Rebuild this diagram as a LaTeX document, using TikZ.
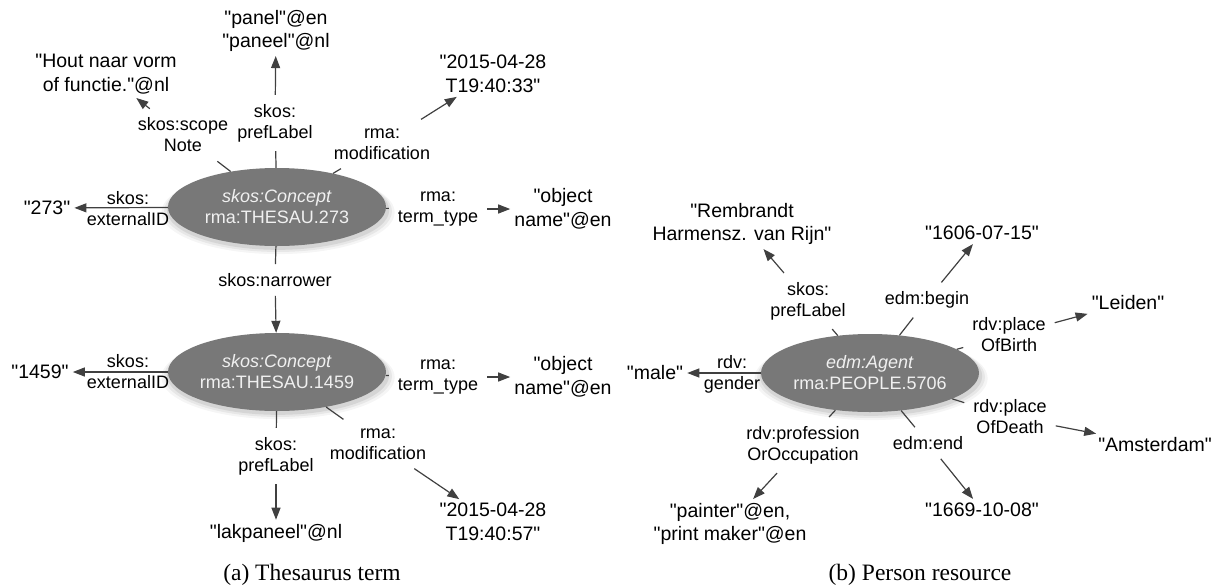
\documentclass[tikz,border=0pt]{standalone}
\usepackage{fontspec}
\setmainfont{Liberation Sans}[Ligatures=TeXOff]
\newfontfamily\capfont{Liberation Serif}
\usetikzlibrary{shapes.geometric,arrows.meta,shadows}
\definecolor{ellgray}{RGB}{120,120,120}
\definecolor{linegray}{RGB}{64,64,64}
\begin{document}
\begin{tikzpicture}[x=1pt,y=-1pt,
 concept/.style={ellipse, minimum width=218pt, minimum height=78pt, inner sep=0pt,
   fill=ellgray, text=white!94!black, align=center, font=\fontsize{18}{21}\selectfont,
   general shadow={fill=black,opacity=0.04,shadow scale=1.07,shadow yshift=-5pt,shadow xshift=1pt},
   general shadow={fill=black,opacity=0.06,shadow scale=1.045,shadow yshift=-4pt,shadow xshift=1pt},
   general shadow={fill=black,opacity=0.08,shadow scale=1.02,shadow yshift=-3pt,shadow xshift=1pt}},
 val/.style={align=center, inner sep=4pt, font=\fontsize{19.5}{23.5}\selectfont, text=black},
 lbl/.style={align=center, inner sep=9pt, font=\fontsize{18}{21}\selectfont, text=black},
 freelbl/.style={align=center, inner sep=0pt, font=\fontsize{18}{21}\selectfont, text=black},
 stub/.style={draw=linegray, line width=1.2pt},
 arr/.style={draw=linegray, line width=1.2pt, -{Triangle[length=12pt,width=9pt]}},
 captext/.style={font=\capfont\fontsize{23.5}{28}\selectfont, inner sep=0pt}
 ]
\useasboundingbox (0,0) rectangle (1214,587);

% ---------- (a) Thesaurus term ----------
\node[concept] (E1) at (277,207) {\textit{skos:Concept}\\rma:THESAU.273};
\node[concept] (E2) at (277,372) {\textit{skos:Concept}\\rma:THESAU.1459};

\node[val] (panel) at (276,31) {"panel"@en\\"paneel"@nl};
\node[val] (hout) at (106,74) {"Hout naar vorm\\of functie."@nl};
\node[val] (date1) at (493,74) {"2015-04-28\\T19:40:33"};
\node[val] (v273) at (47,208) {"273"};
\node[val] (obj1) at (563,209) {"object\\name"@en};
\node[val] (v1459) at (40,372) {"1459"};
\node[val] (obj2) at (563,377) {"object\\name"@en};
\node[val] (lak) at (276,533) {"lakpaneel"@nl};
\node[val] (date2) at (493,522) {"2015-04-28\\T19:40:57"};

\node[lbl] (lScope) at (183,135) {skos:scope\\Note};
\node[lbl] (lPref1) at (275,123) {skos:\\prefLabel};
\node[lbl] (lMod1) at (382,144) {rma:\\modification};
\node[freelbl] (lExt1) at (128,209) {skos:\\externalID};
\node[lbl] (lTerm1) at (438,209) {rma:\\term\_type};
\node[lbl] (lNarrow) at (275,280) {skos:narrower};
\node[freelbl] (lExt2) at (128,372) {skos:\\externalID};
\node[lbl] (lTerm2) at (438,377) {rma:\\term\_type};
\node[lbl] (lPref2) at (276,456) {skos:\\prefLabel};
\node[lbl] (lMod2) at (378,444) {rma:\\modification};

\draw[stub] (E1) -- (lScope);  \draw[arr] (lScope) -- (hout);
\draw[stub] (E1) -- (lPref1);  \draw[arr] (lPref1) -- (panel);
\draw[stub] (E1) -- (lMod1);   \draw[arr] (lMod1) -- (date1);
\draw[arr] (E1) -- (v273);
\draw[stub] (E1) -- (lTerm1);  \draw[arr] (lTerm1) -- (obj1);
\draw[stub] (E1) -- (lNarrow); \draw[arr] (lNarrow) -- (E2);
\draw[arr] (E2) -- (v1459);
\draw[stub] (E2) -- (lTerm2);  \draw[arr] (lTerm2) -- (obj2);
\draw[stub] (E2) -- (lPref2);  \draw[arr] (lPref2) -- (lak);
\draw[stub] (E2) -- (lMod2);   \draw[arr] (lMod2) -- (date2);

% ---------- (b) Person resource ----------
\node[concept] (E3) at (870,373) {\textit{edm:Agent}\\rma:PEOPLE.5706};

\node[val] (rem) at (742,224) {"Rembrandt\\Harmensz. van Rijn"};
\node[val] (d1606) at (982,233) {"1606-07-15"};
\node[val] (leiden) at (1128,303) {"Leiden"};
\node[val] (male) at (655,373) {"male"};
\node[val] (amst) at (1155,445) {"Amsterdam"};
\node[val] (paint) at (730,524) {"painter"@en,\\"print maker"@en};
\node[val] (d1669) at (982,510) {"1669-10-08"};

\node[lbl] (lPref3) at (808,301) {skos:\\prefLabel};
\node[lbl] (lBegin) at (927,300) {edm:begin};
\node[lbl] (lBirth) at (1009,335) {rdv:place\\OfBirth};
\node[freelbl] (lGender) at (732,374) {rdv:\\gender};
\node[lbl] (lDeath) at (1010,417) {rdv:place\\OfDeath};
\node[lbl] (lProf) at (803,445) {rdv:profession\\OrOccupation};
\node[lbl] (lEnd) at (928,443) {edm:end};

\draw[stub] (E3) -- (lPref3);  \draw[arr] (lPref3) -- (rem);
\draw[stub] (E3) -- (lBegin);  \draw[arr] (lBegin) -- (d1606);
\draw[stub] (E3) -- (lBirth);  \draw[arr] (lBirth) -- (leiden);
\draw[arr] (E3) -- (male);
\draw[stub] (E3) -- (lDeath);  \draw[arr] (lDeath) -- (amst);
\draw[stub] (E3) -- (lEnd);    \draw[arr] (lEnd) -- (d1669);
\draw[stub] (E3) -- (lProf);   \draw[arr] (lProf) -- (paint);

% ---------- captions ----------
\node[captext] (capA) at (312,575) {(a) Thesaurus term};
\node[captext] (capB) at (920,575) {(b) Person resource};
\end{tikzpicture}
\end{document}
